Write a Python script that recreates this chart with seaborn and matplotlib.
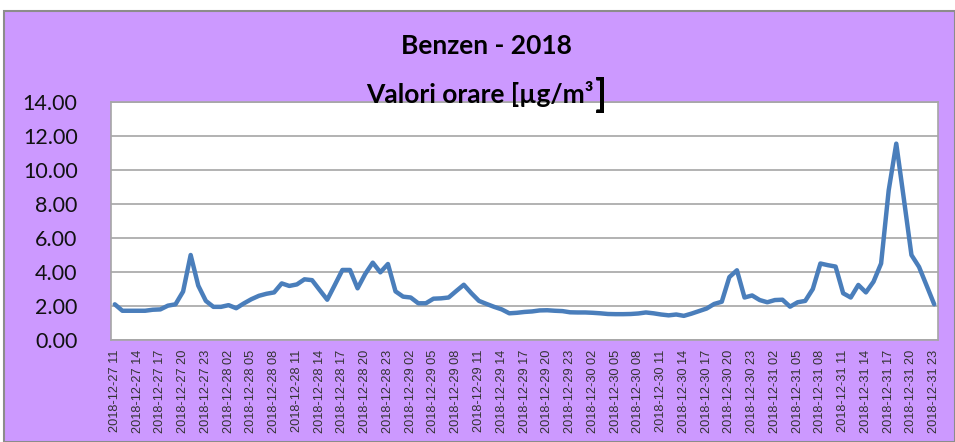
import numpy as np
import pandas as pd
import matplotlib
matplotlib.use("Agg")
import matplotlib.pyplot as plt
from matplotlib.patches import Rectangle
import seaborn as sns

# hourly benzene values, 2018-12-27 11:00 .. 2018-12-31 23:00
day_27 = [2.10, 1.72, 1.72, 1.72, 1.72, 1.78, 1.80, 2.02, 2.10, 2.85, 5.00, 3.20, 2.30]
day_28 = [1.95, 1.95, 2.05, 1.87, 2.15, 2.40, 2.60, 2.72, 2.80, 3.33, 3.18, 3.27,
          3.57, 3.52, 2.94, 2.37, 3.24, 4.12, 4.12, 3.04, 3.88, 4.55, 3.98, 4.47]
day_29 = [2.86, 2.55, 2.50, 2.16, 2.16, 2.43, 2.45, 2.50, 2.88, 3.25, 2.75, 2.30,
          2.12, 1.95, 1.80, 1.57, 1.60, 1.65, 1.68, 1.74, 1.75, 1.72, 1.70, 1.63]
day_30 = [1.62, 1.62, 1.60, 1.57, 1.53, 1.52, 1.52, 1.53, 1.56, 1.62, 1.57, 1.50,
          1.45, 1.50, 1.42, 1.55, 1.70, 1.85, 2.12, 2.25, 3.70, 4.10, 2.50, 2.62]
day_31 = [2.35, 2.22, 2.35, 2.37, 1.96, 2.22, 2.30, 3.00, 4.50, 4.40, 4.32, 2.75,
          2.50, 3.24, 2.80, 3.43, 4.50, 8.80, 11.55, 8.30, 5.00, 4.30, 3.20, 2.10]

hours = pd.date_range("2018-12-27 11:00", "2018-12-31 23:00", freq="h")
hour_labels = [h.strftime("%Y-%m-%d %H") for h in hours]
y_ticks = [0, 2, 4, 6, 8, 10, 12, 14]

values = day_27 + day_28 + day_29 + day_30 + day_31
df = pd.DataFrame({"pos": np.arange(len(values)), "value": values})

sns.set_style("white")
plt.rcParams["font.family"] = ["Lato", "DejaVu Sans"]

W, H = 955, 442
fig = plt.figure(figsize=(W / 100, H / 100), dpi=100, facecolor="white")
# purple chart-area background with a grey frame
fig.patches.append(Rectangle((4 / W, 0), 1 - 4 / W, 1 - 11 / H, transform=fig.transFigure,
                             facecolor="#cc99ff", edgecolor="#8c8c8c", lw=1.5, zorder=-5))

ax = fig.add_axes([111 / W, 1 - 340 / H, (938 - 111) / W, (340 - 102) / H], zorder=2)
ax.set_facecolor("white")
sns.lineplot(data=df, x="pos", y="value", ax=ax, color="#4a7ebb", lw=3.2)

ax.set_xlim(-0.5, len(values) - 0.5)
ax.set_ylim(0, 14)
ax.set_yticks(y_ticks)
ax.set_yticklabels([f"{v:.2f}" for v in y_ticks], fontsize=15.5, color="#111111")
ax.yaxis.grid(True, color="#a6a6a6", lw=1.2)
ax.set_axisbelow(True)

ax.set_xticks(df["pos"].values[::3])
ax.set_xticklabels(hour_labels[::3], rotation=90, fontsize=9.2, color="#333333",
                   family="Liberation Sans")
ax.tick_params(axis="both", length=0)
ax.tick_params(axis="y", pad=24)
ax.tick_params(axis="x", pad=7)
ax.set_xlabel("")
ax.set_ylabel("")
for s in ax.spines.values():
    s.set_color("#a6a6a6")
    s.set_linewidth(1.2)

fig.text(486 / W, 1 - 46 / H, "Benzen - 2018", ha="center", va="center",
         fontsize=19, fontweight="bold", color="black", zorder=3)
sub = fig.text(480 / W, 1 - 94 / H, "Valori orare [µg/m³", ha="center", va="center",
               fontsize=19, fontweight="bold", color="black", zorder=3)
# the closing bracket is drawn larger, right after the subtitle
fig.add_artist(matplotlib.text.Annotation(
    "]", xy=(1, 0), xycoords=sub, xytext=(1, -4), textcoords="offset points",
    ha="left", va="bottom", fontsize=28, fontweight="bold", color="black",
    annotation_clip=False, zorder=4))

fig.savefig("out.png", dpi=100, facecolor=fig.get_facecolor())
plt.close(fig)
